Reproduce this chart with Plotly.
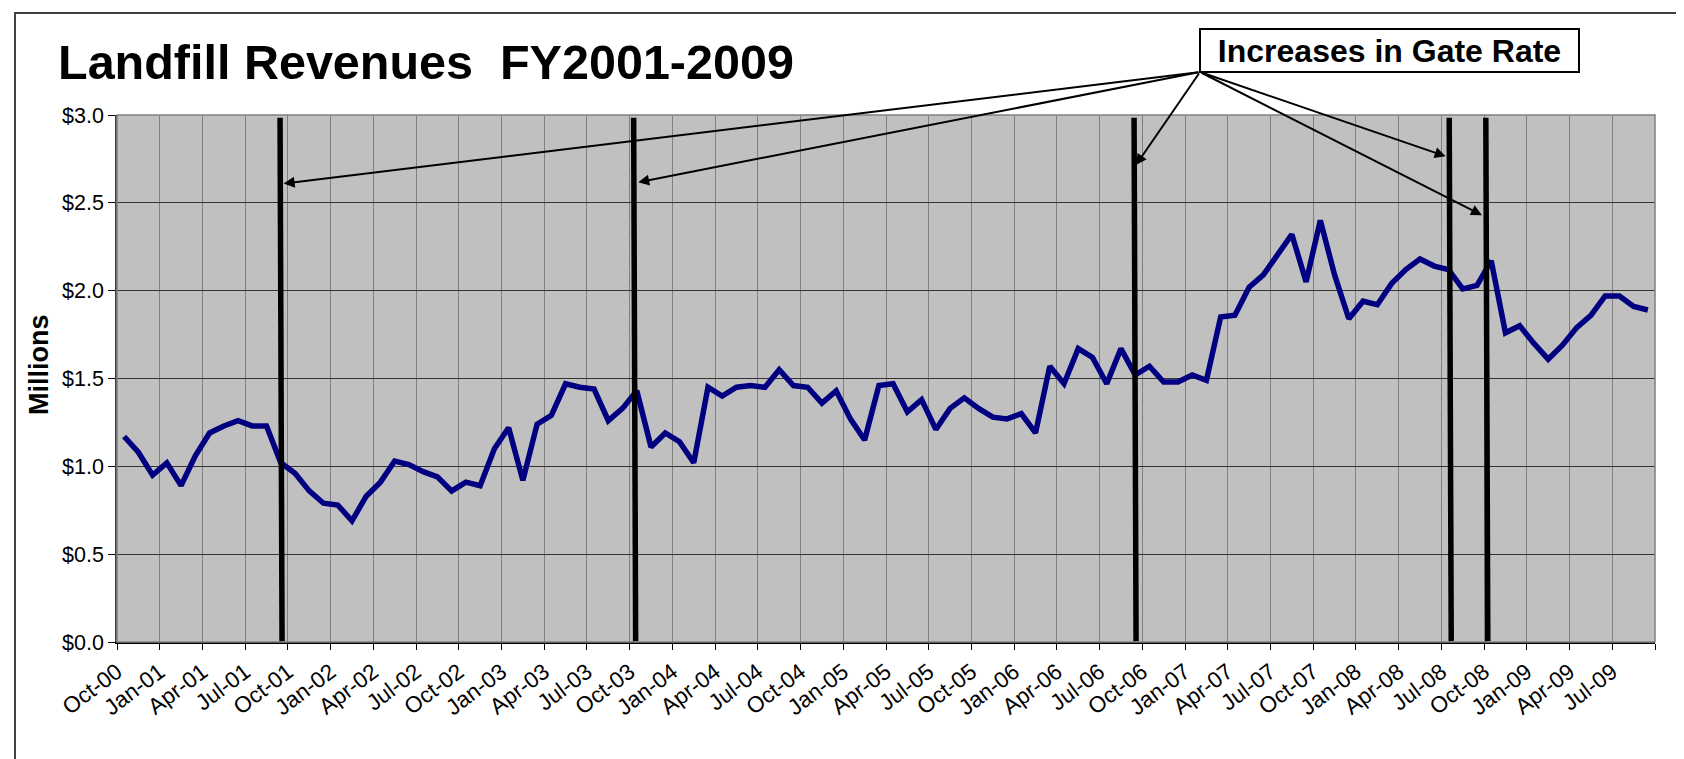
import pandas as pd
import plotly.graph_objects as go

# ---------------- data ----------------
revenue_millions = [
    1.17, 1.08, 0.95, 1.02, 0.89, 1.06, 1.19, 1.23, 1.26, 1.23, 1.23, 1.02,
    0.96, 0.86, 0.79, 0.78, 0.69, 0.83, 0.91, 1.03, 1.01, 0.97, 0.94, 0.86,
    0.91, 0.89, 1.10, 1.22, 0.92, 1.24, 1.29, 1.47, 1.45, 1.44, 1.26, 1.33,
    1.43, 1.11, 1.19, 1.14, 1.02, 1.45, 1.40, 1.45, 1.46, 1.45, 1.55, 1.46,
    1.45, 1.36, 1.43, 1.27, 1.15, 1.46, 1.47, 1.31, 1.38, 1.21, 1.33, 1.39,
    1.33, 1.28, 1.27, 1.30, 1.19, 1.57, 1.47, 1.67, 1.62, 1.47, 1.67, 1.52,
    1.57, 1.48, 1.48, 1.52, 1.49, 1.85, 1.86, 2.02, 2.09, 2.20, 2.32, 2.05,
    2.40, 2.09, 1.84, 1.94, 1.92, 2.04, 2.12, 2.18, 2.14, 2.12, 2.01, 2.03,
    2.17, 1.76, 1.80, 1.70, 1.61, 1.69, 1.79, 1.86, 1.97, 1.97, 1.91, 1.89,
]
months = pd.date_range("2000-10-01", periods=len(revenue_millions), freq="MS").strftime("%b-%y").tolist()

tick_labels = [
    "Oct-00", "Jan-01", "Apr-01", "Jul-01", "Oct-01", "Jan-02", "Apr-02", "Jul-02",
    "Oct-02", "Jan-03", "Apr-03", "Jul-03", "Oct-03", "Jan-04", "Apr-04", "Jul-04",
    "Oct-04", "Jan-05", "Apr-05", "Jul-05", "Oct-05", "Jan-06", "Apr-06", "Jul-06",
    "Oct-06", "Jan-07", "Apr-07", "Jul-07", "Oct-07", "Jan-08", "Apr-08", "Jul-08",
    "Oct-08", "Jan-09", "Apr-09", "Jul-09", "",
]

# gate-rate increases (position in months since Oct-00, fractional) and arrow tips
gate_months = [10.95, 35.78, 70.92, 93.05, 95.62]
arrow_tip_months = [11.2, 36.1, 71.05, 92.8, 95.35]
arrow_tip_values = [2.61, 2.617, 2.715, 2.765, 2.43]
annotation_text = "Increases in Gate Rate"

# ---------------- layout geometry (pixels) ----------------
W, H = 1684, 759
L, R, T, B = 109, 1647, 107, 634


def px_x(p):
    return (p - L) / (R - L)


def px_y(p):
    return (B - p) / (B - T)


FONT = "Liberation Sans, Arial, sans-serif"
x_idx = list(range(len(revenue_millions)))

fig = go.Figure()
fig.add_trace(go.Scatter(
    x=x_idx, y=revenue_millions, mode="lines",
    line=dict(color="#000080", width=5.5),
    text=months, hovertemplate="%{text}: $%{y:.2f}M<extra></extra>",
    showlegend=False,
))

tickvals = [3 * k - 0.5 for k in range(len(tick_labels))]

fig.update_xaxes(
    range=[-0.5, len(revenue_millions) - 0.5],
    tickmode="array", tickvals=tickvals, ticktext=tick_labels,
    tickangle=-37, tickfont=dict(family=FONT, size=22.5, color="black"),
    ticks="outside", ticklen=6, tickcolor="black", tickwidth=1,
    showgrid=True, gridcolor="#808080", gridwidth=1,
    showline=True, linecolor="black", linewidth=2,
    zeroline=False,
)
fig.update_yaxes(
    range=[0, 3], tickmode="linear", tick0=0, dtick=0.5,
    tickprefix="$", tickformat=".1f",
    tickfont=dict(family=FONT, size=21.5, color="black"),
    ticks="outside", ticklen=7, tickcolor="black", tickwidth=1,
    showgrid=True, gridcolor="#333333", gridwidth=1,
    showline=True, linecolor="#404040", linewidth=1.5,
    zeroline=False,
)

shapes = []
# plot area border (top/right gray)
shapes.append(dict(type="rect", xref="paper", yref="paper", x0=0, x1=1, y0=0, y1=1,
                   line=dict(color="#808080", width=1.5), layer="above"))
# gate-rate vertical bars
for gx in gate_months:
    shapes.append(dict(type="line", xref="x", yref="y", x0=gx, x1=gx + 0.14,
                       y0=2.985, y1=0.005, line=dict(color="black", width=5.5), layer="above"))
# outer frame
shapes.append(dict(type="rect", xref="paper", yref="paper",
                   x0=px_x(7), x1=px_x(1677), y0=px_y(757), y1=px_y(5),
                   line=dict(color="#404040", width=2), layer="above"))
fig.update_layout(shapes=shapes)

# arrows from the label box corner
cat_w = (R - L) / len(revenue_millions)
tail_x = (1192 - L) / cat_w - 0.5
tail_y = (B - 64) / ((B - T) / 3.0)
annotations = []
for tx, ty in zip(arrow_tip_months, arrow_tip_values):
    annotations.append(dict(
        x=tx, y=ty, xref="x", yref="y", ax=tail_x, ay=tail_y, axref="x", ayref="y",
        text="", showarrow=True, arrowhead=2, arrowsize=1.1, arrowwidth=2,
        arrowcolor="black", standoff=0,
    ))
# label box
annotations.append(dict(
    x=px_x(1381), y=px_y(42), xref="paper", yref="paper",
    xanchor="center", yanchor="middle",
    text="<b>%s</b>" % annotation_text, showarrow=False,
    font=dict(family=FONT, size=32, color="black"),
    bgcolor="white", bordercolor="black", borderwidth=2, borderpad=0,
    width=377, height=41, align="center",
))
# y-axis title
annotations.append(dict(
    x=px_x(39), y=px_y(364), xref="paper", yref="paper",
    xanchor="center", yanchor="middle", textangle=-90,
    text="<b>Millions</b>", showarrow=False,
    font=dict(family=FONT, size=27, color="black"),
    xshift=-8, yshift=7,
))
fig.update_layout(annotations=annotations)

fig.update_layout(
    width=W, height=H, autosize=False,
    margin=dict(l=L, r=W - R, t=T, b=H - B),
    paper_bgcolor="white", plot_bgcolor="#C0C0C0",
    title=dict(text="<b>Landfill Revenues  FY2001-2009</b>",
               font=dict(family=FONT, size=48.5, color="black"),
               x=50 / W, xanchor="left", xref="container",
               y=1 - 54 / H, yanchor="middle", yref="container"),
    font=dict(family=FONT),
)

fig.write_html("out.html")
